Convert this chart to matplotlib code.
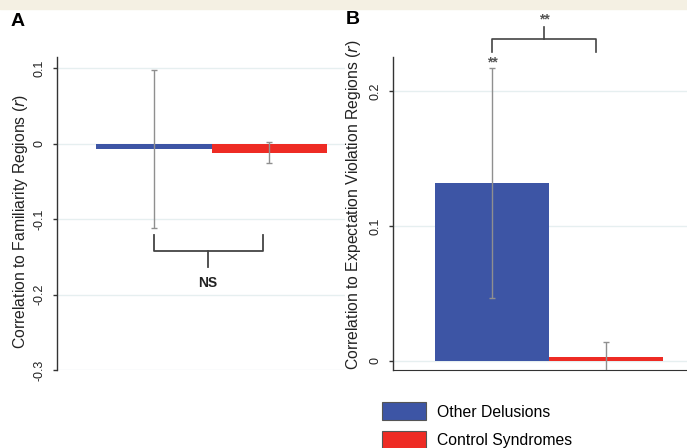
import numpy as np
import matplotlib
matplotlib.use('Agg')
import matplotlib.pyplot as plt
from matplotlib.patches import Patch

plt.rcParams['font.family'] = ['Liberation Sans', 'DejaVu Sans']

groups = ['Other Delusions', 'Control Syndromes']
colors = ['#3d55a5', '#ee2b24']

# panel A: familiarity regions
fam_mean = [-0.007, -0.012]
fam_err = [0.105, 0.014]
# panel B: expectation violation regions
exp_mean = [0.132, 0.003]
exp_err = [0.085, 0.011]

W, H = 687, 448
fig = plt.figure(figsize=(W/100, H/100), dpi=100)
fig.patch.set_facecolor('white')
# beige strip on top
fig.add_artist(plt.Rectangle((0, 1-9/H), 1, 9/H, transform=fig.transFigure,
                             color='#f4f0e3', zorder=0))

def px_rect(x0, y0, x1, y1):
    return [x0/W, 1-y1/H, (x1-x0)/W, (y1-y0)/H]

axA = fig.add_axes(px_rect(57, 57, 345, 370))
axB = fig.add_axes(px_rect(393, 57, 687, 370))

x = np.arange(len(groups))
gray = '#8f8f8f'

def style(ax, ticks):
    for s in ['top', 'right']:
        ax.spines[s].set_visible(False)
    ax.spines['left'].set_color('#333333')
    ax.spines['left'].set_linewidth(1.0)
    ax.set_xticks([])
    ax.set_yticks(ticks)
    ax.set_yticklabels([('%g' % t) for t in ticks], rotation=90, va='center',
                       fontsize=9, color='#222222')
    ax.tick_params(axis='y', length=3, width=1, color='#333333', pad=5)
    for t in ticks:
        ax.axhline(t, color='#e6eff0', lw=1, zorder=0)

# Panel A
axA.bar(x, fam_mean, width=1.0, color=colors, zorder=2)
axA.errorbar(x, fam_mean, yerr=fam_err, fmt='none', ecolor=gray, elinewidth=1,
             capsize=2.5, capthick=1, zorder=3)
axA.set_xlim(-0.843, 1.66)
axA.set_ylim(-0.3, 0.115)
style(axA, [-0.3, -0.2, -0.1, 0, 0.1])
axA.spines['bottom'].set_visible(False)
axA.set_ylabel('Correlation to Familiarity Regions ($\\it{r}$)', fontsize=11.3,
               color='#222222', labelpad=2.5)
axA.yaxis.label.set_y(0.476)
# NS bracket
by = min(m - e for m, e in zip(fam_mean, fam_err)) - 0.03
axA.plot([0, 0, 0.95, 0.95], [by + 0.021, by, by, by + 0.021], color='#444444', lw=1.3)
axA.plot([0.47, 0.47], [by, by - 0.021], color='#444444', lw=1.3)
axA.text(0.47, by - 0.042, 'NS', ha='center', va='center', fontsize=10,
         fontweight='bold', color='#222222')

# Panel B
axB.bar(x, exp_mean, width=1.0, color=colors, zorder=2)
axB.errorbar(x, exp_mean, yerr=exp_err, fmt='none', ecolor=gray, elinewidth=1,
             capsize=2.5, capthick=1, zorder=3)
axB.set_xlim(-0.868, 1.71)
axB.set_ylim(-0.0067, 0.2252)
style(axB, [0, 0.1, 0.2])
axB.spines['bottom'].set_color('#333333')
axB.set_ylabel('Correlation to Expectation Violation Regions ($\\it{r}$)', fontsize=11.3,
               color='#222222', labelpad=5)
axB.yaxis.label.set_y(0.527)
top = exp_mean[0] + exp_err[0]
axB.text(0, top + 0.004, '**', ha='center', va='center', fontsize=10,
         fontweight='bold', color='#555555', clip_on=False)
ty = 0.2385
axB.plot([0, 0, 0.91, 0.91], [ty - 0.0095, ty, ty, ty - 0.0095], color='#444444',
         lw=1.2, clip_on=False)
axB.plot([0.46, 0.46], [ty, ty + 0.009], color='#444444', lw=1.2, clip_on=False)
axB.text(0.46, ty + 0.0145, '**', ha='center', va='center', fontsize=10,
         fontweight='bold', color='#555555', clip_on=False)

# panel letters
fig.text(18/W, 1-22/H, 'A', fontsize=14, fontweight='bold', ha='center', va='center')
fig.text(353/W, 1-20/H, 'B', fontsize=14, fontweight='bold', ha='center', va='center')

# legend
handles = [Patch(facecolor=c, edgecolor='#555555', lw=0.8) for c in colors]
fig.legend(handles, groups, loc='upper left', bbox_to_anchor=(376/W, 1-396/H),
           frameon=False, fontsize=11.3, handlelength=2.8, handleheight=1.4,
           handletextpad=0.7, labelspacing=0.65, borderaxespad=0)

fig.savefig('out.png', dpi=100)
